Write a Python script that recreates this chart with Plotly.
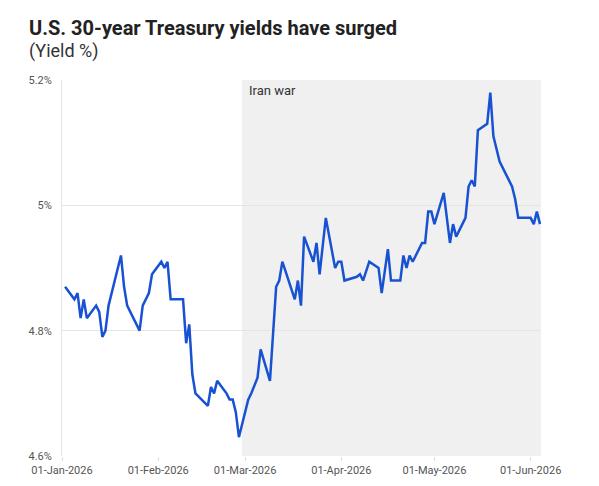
import plotly.graph_objects as go

# ---- data ----
dates = [
    "2026-01-02", "2026-01-05", "2026-01-06", "2026-01-07", "2026-01-08", "2026-01-09",
    "2026-01-12", "2026-01-13", "2026-01-14", "2026-01-15", "2026-01-16", "2026-01-20",
    "2026-01-21", "2026-01-22", "2026-01-26", "2026-01-27", "2026-01-29", "2026-01-30",
    "2026-02-02", "2026-02-03", "2026-02-04", "2026-02-05", "2026-02-09", "2026-02-10",
    "2026-02-11", "2026-02-12", "2026-02-13", "2026-02-17", "2026-02-18", "2026-02-19",
    "2026-02-20", "2026-02-23", "2026-02-24", "2026-02-25", "2026-02-26", "2026-02-27",
    "2026-03-02", "2026-03-03", "2026-03-05", "2026-03-06", "2026-03-09", "2026-03-11",
    "2026-03-12", "2026-03-13", "2026-03-17", "2026-03-18", "2026-03-19", "2026-03-20",
    "2026-03-23", "2026-03-24", "2026-03-25", "2026-03-27", "2026-03-30", "2026-03-31",
    "2026-04-01", "2026-04-02", "2026-04-06", "2026-04-07", "2026-04-08", "2026-04-10",
    "2026-04-13", "2026-04-14", "2026-04-16", "2026-04-17", "2026-04-20", "2026-04-21",
    "2026-04-22", "2026-04-23", "2026-04-24", "2026-04-27", "2026-04-28", "2026-04-29",
    "2026-04-30", "2026-05-01", "2026-05-04", "2026-05-06", "2026-05-07", "2026-05-08",
    "2026-05-11", "2026-05-12", "2026-05-13", "2026-05-14", "2026-05-15", "2026-05-18",
    "2026-05-19", "2026-05-20", "2026-05-22", "2026-05-26", "2026-05-27", "2026-05-28",
    "2026-06-01", "2026-06-02", "2026-06-03", "2026-06-04",
]
yields = [
    4.87, 4.85, 4.86, 4.82, 4.85, 4.82,
    4.84, 4.83, 4.79, 4.80, 4.84, 4.92,
    4.87, 4.84, 4.80, 4.84, 4.86, 4.89,
    4.91, 4.90, 4.91, 4.85, 4.85, 4.78,
    4.81, 4.73, 4.70, 4.68, 4.71, 4.70,
    4.72, 4.70, 4.69, 4.69, 4.67, 4.63,
    4.69, 4.70, 4.725, 4.77, 4.72, 4.87,
    4.88, 4.91, 4.85, 4.88, 4.84, 4.95,
    4.91, 4.94, 4.89, 4.98, 4.90, 4.91,
    4.91, 4.88, 4.886, 4.89, 4.88, 4.91,
    4.90, 4.86, 4.93, 4.88, 4.88, 4.92,
    4.90, 4.92, 4.91, 4.94, 4.94, 4.99,
    4.99, 4.97, 5.02, 4.94, 4.97, 4.95,
    4.98, 5.03, 5.04, 5.03, 5.12, 5.13,
    5.18, 5.11, 5.07, 5.03, 5.01, 4.98,
    4.98, 4.97, 4.99, 4.97,
]

x_tick_vals = ["2026-01-01", "2026-02-01", "2026-03-01", "2026-04-01", "2026-05-01", "2026-06-01"]
x_tick_text = ["01-Jan-2026", "01-Feb-2026", "01-Mar-2026", "01-Apr-2026", "01-May-2026", "01-Jun-2026"]
y_tick_vals = [4.6, 4.8, 5.0, 5.2]
y_tick_text = ["4.6%", "4.8%", "5%", "5.2%"]

war_start = "2026-02-28"
war_label = "Iran war"
title_text = "U.S. 30-year Treasury yields have surged"
subtitle_text = "(Yield %)"

x_range = ["2026-01-01", "2026-06-04 08:00"]
y_range = [4.6, 5.2]

FONT = "Roboto"

fig = go.Figure()
fig.add_trace(go.Scatter(
    x=dates, y=yields, mode="lines",
    line=dict(color="#1852d2", width=2.5),
    hoverinfo="x+y", showlegend=False,
))

fig.add_shape(type="rect", xref="x", yref="paper",
              x0=war_start, x1=x_range[1], y0=0, y1=1,
              fillcolor="#f0f0f0", line=dict(width=0), layer="below")

fig.add_annotation(x=war_start, y=1, xref="x", yref="paper",
                   text=war_label, showarrow=False, xanchor="left", yanchor="top",
                   xshift=5, yshift=-1,
                   font=dict(family=FONT, size=13, color="#333333"))

fig.add_annotation(x=-0.073, y=1.138, xref="paper", yref="paper",
                   text="<b>" + title_text + "</b>", showarrow=False,
                   xanchor="left", yanchor="middle",
                   font=dict(family=FONT, size=20, color="#222222"))
fig.add_annotation(x=-0.073, y=1.076, xref="paper", yref="paper",
                   text=subtitle_text, showarrow=False,
                   xanchor="left", yanchor="middle",
                   font=dict(family=FONT, size=18, color="#333333"))

fig.update_layout(
    width=599, height=486,
    margin=dict(l=54, r=66, t=72, b=38),
    paper_bgcolor="white", plot_bgcolor="white",
    font=dict(family=FONT, size=11, color="#555555"),
    xaxis=dict(
        type="date", range=x_range,
        tickmode="array", tickvals=x_tick_vals, ticktext=x_tick_text,
        showgrid=False, zeroline=False, showline=False,
        ticks="outside", ticklen=4, tickcolor="#dddddd",
        tickfont=dict(family=FONT, size=11, color="#555555"),
    ),
    yaxis=dict(
        range=y_range,
        tickmode="array", tickvals=y_tick_vals, ticktext=y_tick_text,
        showgrid=True, gridcolor="#e4e4e4", gridwidth=1,
        zeroline=False, showline=True, linecolor="#e4e4e4", linewidth=1,
        ticks="outside", ticklen=7, tickcolor="rgba(0,0,0,0)",
        tickfont=dict(family=FONT, size=11, color="#555555"),
    ),
)

fig.write_html("out.html")
